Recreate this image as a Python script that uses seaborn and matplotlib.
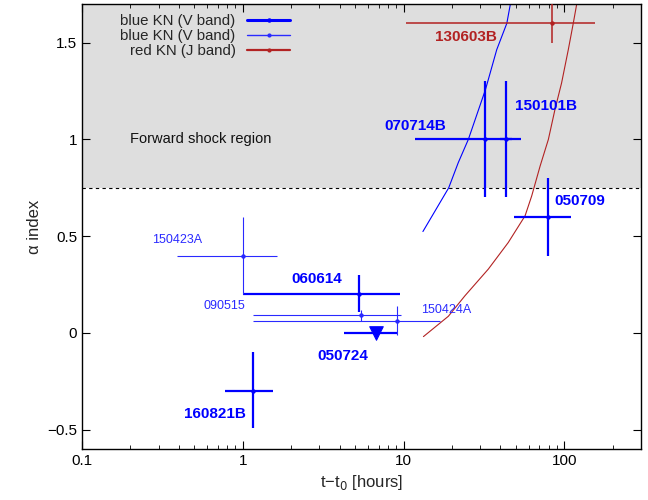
import numpy as np
import pandas as pd
import matplotlib
matplotlib.use("Agg")
import matplotlib.pyplot as plt
import seaborn as sns
from matplotlib.lines import Line2D
from matplotlib.ticker import LogLocator, NullFormatter

# ---------------- data ----------------
# thick blue KN (V band) points
thick_names = ["070714B", "150101B", "050709", "060614", "160821B"]
thick_x = [32.2, 43.5, 79.6, 5.3, 1.16]
thick_xlo = [11.8, 40.0, 48.8, 1.0, 0.77]
thick_xhi = [54.0, 47.0, 110.0, 9.5, 1.54]
thick_y = [1.0, 1.0, 0.6, 0.2, -0.3]
thick_ylo = [0.70, 0.70, 0.40, 0.107, -0.49]
thick_yhi = [1.30, 1.30, 0.80, 0.30, -0.10]

# upper limit (050724)
ul_name = "050724"
ul_x = [6.7]
ul_xlo = [4.25]
ul_xhi = [9.1]
ul_y = [0.0]

# thin blue KN (V band) points
thin_names = ["150423A", "090515", "150424A"]
thin_x = [1.01, 5.43, 9.1]
thin_xlo = [0.39, 1.16, 1.16]
thin_xhi = [1.64, 9.7, 16.9]
thin_y = [0.40, 0.093, 0.063]
thin_ylo = [0.20, 0.063, -0.012]
thin_yhi = [0.60, 0.12, 0.141]

# red KN (J band) point
red_name = "130603B"
red_x = [84.0]
red_xlo = [10.3]
red_xhi = [156.0]
red_y = [1.60]
red_ylo = [1.50]
red_yhi = [1.80]

# model curves
blue_curve_t = [13.2, 15.7, 19.1, 21.9, 25.3, 32.4, 38.0, 43.9, 46.2]
blue_curve_a = [0.524, 0.63, 0.75, 0.88, 1.0, 1.26, 1.464, 1.60, 1.70]
red_curve_t = [13.3, 19.0, 24.1, 33.7, 44.8, 57.0, 62.7, 70.7, 79.6, 87.5,
               96.2, 105.9, 113.7, 119.5]
red_curve_a = [-0.019, 0.086, 0.192, 0.33, 0.467, 0.605, 0.708, 0.862, 1.0,
               1.155, 1.292, 1.464, 1.60, 1.70]

# ---------------- style ----------------
sns.set_theme(style="ticks")
plt.rcParams["font.family"] = ["Liberation Sans", "DejaVu Sans"]

BLUE = "#0000ff"
THIN = "#2a2aff"
RED = "#b22222"

fig = plt.figure(figsize=(6.48, 5.0), dpi=100)
ax = fig.add_axes([82 / 648, 1 - 449 / 500, (641 - 82) / 648, (449 - 4) / 500])
ax.set_xscale("log")
ax.set_xlim(0.1, 300)
ax.set_ylim(-0.6, 1.7)

# forward shock region
ax.axhspan(0.75, 1.8, color="#dedede", zorder=0, lw=0)
ax.axhline(0.75, color="black", lw=0.8, ls=(0, (3, 3)), zorder=1)
ax.text(0.2, 1.0, "Forward shock region", fontsize=10.5, color="#111111",
        ha="left", va="center")

# model curves
sns.lineplot(x=blue_curve_t, y=blue_curve_a, ax=ax, color=BLUE, lw=0.8,
             sort=False, estimator=None, zorder=2)
sns.lineplot(x=red_curve_t, y=red_curve_a, ax=ax, color=RED, lw=0.8,
             sort=False, estimator=None, zorder=2)


def draw_err(x, xlo, xhi, y, ylo, yhi, color, lw):
    x = np.asarray(x); y = np.asarray(y)
    xerr = [x - np.asarray(xlo), np.asarray(xhi) - x]
    yerr = [y - np.asarray(ylo), np.asarray(yhi) - y]
    ax.errorbar(x, y, xerr=xerr, yerr=yerr, fmt="o", ms=2.2, color=color,
                ecolor=color, elinewidth=lw, capsize=0, zorder=3)


draw_err(thick_x, thick_xlo, thick_xhi, thick_y, thick_ylo, thick_yhi, BLUE, 1.6)
draw_err(thin_x, thin_xlo, thin_xhi, thin_y, thin_ylo, thin_yhi, THIN, 0.8)
draw_err(red_x, red_xlo, red_xhi, red_y, red_ylo, red_yhi, RED, 1.1)

# upper limit
ulx = np.asarray(ul_x)
ax.errorbar(ulx, ul_y, xerr=[ulx - np.asarray(ul_xlo), np.asarray(ul_xhi) - ulx],
            fmt="none", ecolor=BLUE, elinewidth=1.6, capsize=0, zorder=3)
sns.scatterplot(x=ul_x, y=ul_y, ax=ax, marker="v", s=95, color=BLUE,
                edgecolor=BLUE, zorder=4)

# labels
bold_lab = {"070714B": (11.8, 1.07), "150101B": (76.8, 1.175), "050709": (124, 0.684),
            "060614": (2.88, 0.278), "160821B": (0.67, -0.418), "050724": (4.19, -0.117)}
for name, (tx, ty) in bold_lab.items():
    ax.text(tx, ty, name, color=BLUE, fontsize=11, fontweight="bold",
            ha="center", va="center")
thin_lab = {"150423A": (0.39, 0.48), "090515": (0.77, 0.137), "150424A": (18.4, 0.12)}
for name, (tx, ty) in thin_lab.items():
    ax.text(tx, ty, name, color=THIN, fontsize=9, ha="center", va="center")
ax.text(24.4, 1.527, red_name, color=RED, fontsize=11, fontweight="bold",
        ha="center", va="center")

# axes
ax.set_xticks([0.1, 1, 10, 100], ["0.1", "1", "10", "100"])
ax.xaxis.set_minor_locator(LogLocator(base=10, subs=np.arange(2, 10)))
ax.xaxis.set_minor_formatter(NullFormatter())
ax.set_yticks([-0.5, 0, 0.5, 1, 1.5], ["\u22120.5", "0", "0.5", "1", "1.5"])
ax.tick_params(which="both", direction="in", top=True, right=True, colors="black",
               labelsize=11)
ax.tick_params(which="major", length=6, width=0.8)
ax.tick_params(which="minor", length=3, width=0.6)
for s in ax.spines.values():
    s.set_visible(True)
    s.set_color("black")
    s.set_linewidth(1.0)
ax.set_xlabel("t\u2212t$_0$ [hours]", fontsize=12)
ax.set_ylabel("\u03b1 index", fontsize=12)

# legend
handles = [
    Line2D([], [], color=BLUE, lw=2.2, marker="o", ms=2.2),
    Line2D([], [], color=THIN, lw=1.0, marker="o", ms=2.0),
    Line2D([], [], color=RED, lw=1.6, marker="o", ms=2.0),
]
labels = ["blue KN (V band)", "blue KN (V band)", "red KN (J band)"]
leg = ax.legend(handles, labels, loc="upper left", bbox_to_anchor=(0.05, 1.0),
                frameon=False, markerfirst=False, fontsize=10.8, handlelength=2.9,
                handletextpad=0.75, labelspacing=0.05, borderaxespad=0.3)
try:
    for col in leg._legend_handle_box.get_children():
        col.align = "right"
except Exception:
    pass

fig.savefig("out.png", dpi=100)
